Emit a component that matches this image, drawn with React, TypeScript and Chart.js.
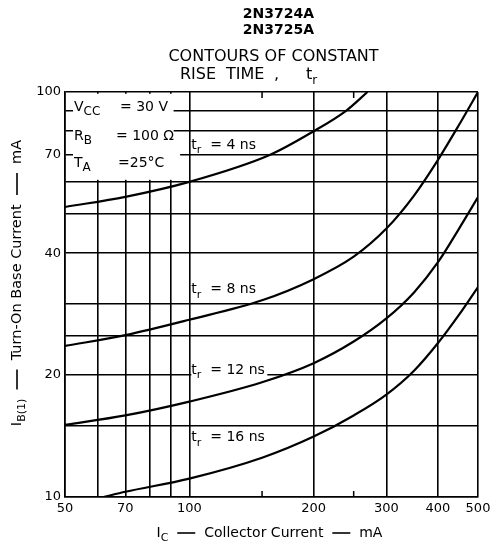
import React, { useEffect, useRef } from 'react';
import { Chart, registerables } from 'chart.js';
Chart.register(...registerables);

// ---- axes ----
const xTickValues = [50, 60, 70, 80, 90, 100, 150, 200, 250, 300, 400, 500];
const xLabeledTicks = [50, 70, 100, 200, 300, 400, 500];
const xShortTicks = [150, 250];
const yTickValues = [10, 15, 20, 25, 30, 40, 50, 60, 70, 80, 90, 100];
const yLabeledTicks = [10, 20, 40, 70, 100];

// ---- curves: IC (mA) vs IB(1) (mA) ----
const ic4 = [50, 70, 100, 157, 200, 240, 270];
const ib4 = [52, 55.1, 60, 70, 80, 90, 100];

const ic8 = [50, 70, 100, 150, 200, 250, 300, 350, 400, 450, 500];
const ib8 = [23.6, 25.1, 27.4, 30.6, 34.5, 39.2, 46, 55.5, 68, 83, 100];

const ic12 = [50, 70, 100, 150, 200, 250, 300, 350, 400, 450, 500];
const ib12 = [15.06, 15.9, 17.2, 19.2, 21.4, 24.2, 27.6, 32, 38, 46, 55];

const ic16 = [62, 70, 100, 150, 200, 250, 300, 350, 400, 450, 500];
const ib16 = [10, 10.3, 11.1, 12.5, 14.1, 15.9, 17.9, 20.5, 24, 28.2, 33];

const curveLabels = ['4', '8', '12', '16'];
const curveLabelIB = [74, 32.5, 20.6, 14.0];

const FONT = '"DejaVu Sans", sans-serif';

type Seg = { t?: string; sub?: boolean; dash?: number };

function drawRich(
  ctx: CanvasRenderingContext2D,
  segs: Seg[],
  x: number,
  y: number,
  size: number,
  align: 'left' | 'center',
  weight = 'normal',
  subRatio = 0.78
) {
  const subSize = Math.round(size * subRatio);
  let total = 0;
  const widths = segs.map((s) => {
    if (s.dash) {
      total += s.dash;
      return s.dash;
    }
    ctx.font = `${weight} ${s.sub ? subSize : size}px ${FONT}`;
    const w = ctx.measureText(s.t || '').width;
    total += w;
    return w;
  });
  let cx = align === 'center' ? x - total / 2 : x;
  ctx.textAlign = 'left';
  ctx.textBaseline = 'middle';
  ctx.fillStyle = '#000';
  ctx.strokeStyle = '#000';
  segs.forEach((s, i) => {
    if (s.dash) {
      ctx.lineWidth = 1.6;
      ctx.beginPath();
      ctx.moveTo(cx, y);
      ctx.lineTo(cx + s.dash, y);
      ctx.stroke();
    } else {
      ctx.font = `${weight} ${s.sub ? subSize : size}px ${FONT}`;
      ctx.fillText(s.t || '', cx, s.sub ? y + size * 0.38 : y);
    }
    cx += widths[i];
  });
  return total;
}

const decorPlugin = {
  id: 'decor',
  beforeDatasetsDraw(chart: any) {
    const ctx: CanvasRenderingContext2D = chart.ctx;
    const xs = chart.scales.x;
    const ys = chart.scales.y;
    const area = chart.chartArea;
    ctx.save();
    // white box behind conditions text
    ctx.fillStyle = '#fff';
    const bx0 = xs.getPixelForValue(52.3);
    const bx1 = xs.getPixelForValue(91.6);
    const by0 = ys.getPixelForValue(99);
    const by1 = ys.getPixelForValue(60.7);
    ctx.fillRect(bx0, by0, bx1 - bx0, by1 - by0);
    const ry0 = ys.getPixelForValue(72);
    const ry1 = ys.getPixelForValue(68.5);
    ctx.fillRect(bx0, ry0, xs.getPixelForValue(95) - bx0, ry1 - ry0);
    // short inward ticks
    ctx.strokeStyle = '#000';
    ctx.lineWidth = 1.5;
    xShortTicks.forEach((v) => {
      const px = xs.getPixelForValue(v);
      ctx.beginPath();
      ctx.moveTo(px, area.top);
      ctx.lineTo(px, area.top + 6);
      ctx.moveTo(px, area.bottom);
      ctx.lineTo(px, area.bottom - 6);
      ctx.stroke();
    });
    ctx.restore();
  },
  afterDatasetsDraw(chart: any) {
    const ctx: CanvasRenderingContext2D = chart.ctx;
    const xs = chart.scales.x;
    const ys = chart.scales.y;
    const area = chart.chartArea;
    const cx = (area.left + area.right) / 2;
    ctx.save();

    // titles
    drawRich(ctx, [{ t: '2N3724A' }], cx + 7, 14, 14, 'center', 'bold');
    drawRich(ctx, [{ t: '2N3725A' }], cx + 7, 30, 14, 'center', 'bold');
    drawRich(ctx, [{ t: 'CONTOURS OF CONSTANT' }], cx + 2, 57, 16, 'center');
    drawRich(ctx, [{ t: 'RISE' }], 180, 75, 16, 'left');
    drawRich(ctx, [{ t: 'TIME' }], 226, 75, 16, 'left');
    drawRich(ctx, [{ t: ',' }], 274, 75, 16, 'left');
    drawRich(ctx, [{ t: 't' }, { t: 'r', sub: true }], 306, 75, 16, 'left');

    // conditions text
    const tx = area.left + 9;
    const r1 = area.top + 15;
    const r2 = area.top + 44;
    const r3 = area.top + 71;
    drawRich(ctx, [{ t: 'V' }, { t: 'CC', sub: true }], tx, r1, 14, 'left', 'normal', 0.88);
    drawRich(ctx, [{ t: '= 30 V' }], area.left + 55, r1, 14, 'left');
    drawRich(ctx, [{ t: 'R' }, { t: 'B', sub: true }], tx, r2, 14, 'left', 'normal', 0.88);
    drawRich(ctx, [{ t: '= 100 Ω' }], area.left + 51, r2, 14, 'left');
    drawRich(ctx, [{ t: 'T' }, { t: 'A', sub: true }], tx, r3, 14, 'left', 'normal', 0.88);
    drawRich(ctx, [{ t: '=25°C' }], area.left + 53, r3, 14, 'left');

    // curve labels
    const lx = xs.getPixelForValue(100) + 2;
    curveLabelIB.forEach((v, i) => {
      const py = ys.getPixelForValue(v);
      if (i === 2) {
        ctx.fillStyle = '#fff';
        ctx.fillRect(lx, py - 8, 76, 17);
      }
      drawRich(ctx, [{ t: 't' }, { t: 'r', sub: true }, { t: '  = ' + curveLabels[i] + ' ns' }], lx, py, 14, 'left');
    });

    // axis titles
    drawRich(
      ctx,
      [{ t: 'I' }, { t: 'C', sub: true }, { t: '  ' }, { dash: 18 }, { t: '  Collector Current  ' }, { dash: 18 }, { t: '  mA' }],
      cx - 2,
      533,
      14,
      'center'
    );
    ctx.translate(17, 283);
    ctx.rotate(-Math.PI / 2);
    drawRich(
      ctx,
      [{ t: 'I' }, { t: 'B(1)', sub: true }, { t: '  ' }, { dash: 20 }, { t: '  Turn-On Base Current  ' }, { dash: 22 }, { t: '  mA' }],
      0,
      0,
      14.5,
      'center'
    );
    ctx.restore();
  },
};

function mk(xv: number[], yv: number[]) {
  return xv.map((x, i) => ({ x, y: yv[i] }));
}

export default function App() {
  const ref = useRef<HTMLCanvasElement>(null);
  useEffect(() => {
    const series = [mk(ic4, ib4), mk(ic8, ib8), mk(ic12, ib12), mk(ic16, ib16)];
    const chart = new Chart(ref.current as HTMLCanvasElement, {
      type: 'line',
      data: {
        datasets: series.map((d, i) => ({
          label: curveLabels[i] + ' ns',
          data: d,
          borderColor: '#000',
          borderWidth: 2.2,
          pointRadius: 0,
          fill: false,
          cubicInterpolationMode: 'monotone' as const,
        })),
      },
      options: {
        animation: false,
        responsive: false,
        devicePixelRatio: 1,
        layout: { padding: { top: 92, right: 22, left: 0, bottom: 0 } },
        plugins: {
          legend: { display: false },
          title: { display: false },
          tooltip: { enabled: false },
        },
        scales: {
          x: {
            type: 'logarithmic',
            min: 50,
            max: 500,
            afterBuildTicks: (s: any) => {
              s.ticks = xTickValues.map((v) => ({ value: v }));
            },
            afterFit: (s: any) => {
              s.height = 53;
            },
            ticks: {
              autoSkip: false,
              maxRotation: 0,
              padding: 4,
              color: '#000',
              font: { family: FONT, size: 13 },
              callback: (v: any) => (xLabeledTicks.includes(Number(v)) ? String(v) : ''),
            },
            grid: {
              drawTicks: false,
              lineWidth: 1.6,
              color: (c: any) =>
                c.tick && xShortTicks.includes(c.tick.value) ? 'rgba(0,0,0,0)' : '#000',
            },
            border: { color: '#000', width: 1.6 },
          },
          y: {
            type: 'logarithmic',
            min: 10,
            max: 100,
            afterBuildTicks: (s: any) => {
              s.ticks = yTickValues.map((v) => ({ value: v }));
            },
            afterFit: (s: any) => {
              s.width = 65;
            },
            ticks: {
              autoSkip: false,
              padding: 4,
              color: '#000',
              font: { family: FONT, size: 13 },
              callback: (v: any) => (yLabeledTicks.includes(Number(v)) ? String(v) : ''),
            },
            grid: { drawTicks: false, lineWidth: 1.6, color: '#000' },
            border: { color: '#000', width: 1.6 },
          },
        },
      },
      plugins: [decorPlugin],
    } as any);
    return () => chart.destroy();
  }, []);
  return (
    <div style={{ position: 'fixed', left: 0, top: 0, width: 500, height: 550, background: '#fff' }}>
      <canvas ref={ref} width={500} height={550} />
    </div>
  );
}
